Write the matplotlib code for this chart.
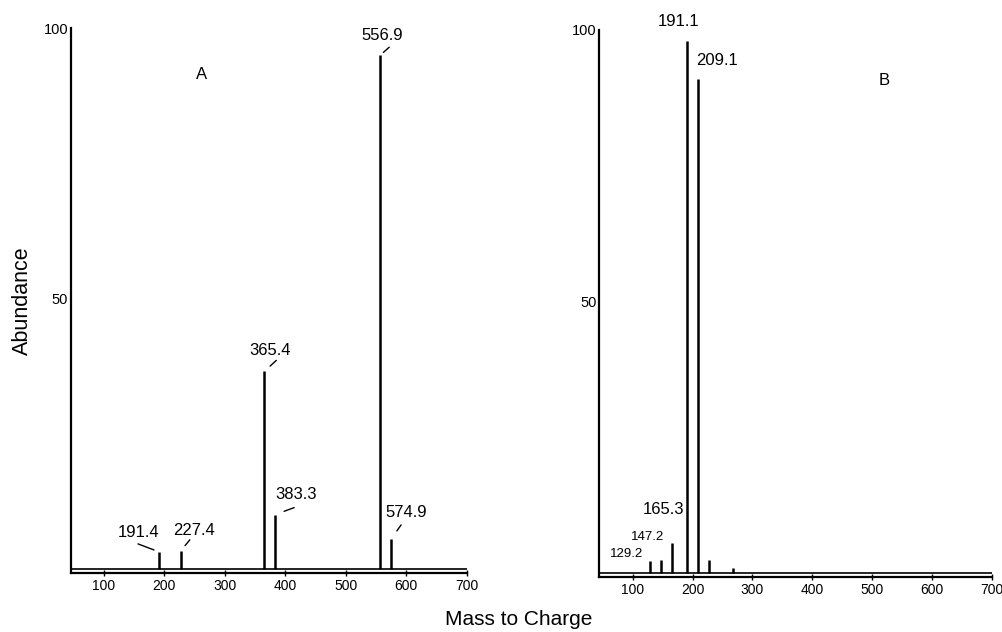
import numpy as np
import matplotlib.pyplot as plt

# spectrum A: m/z and relative abundance of the labelled peaks
mz_a = [191.4, 227.4, 365.4, 383.3, 556.9, 574.9]
ab_a = [3.1, 3.3, 36.5, 10.0, 95.0, 5.5]
lab_a = ['191.4', '227.4', '365.4', '383.3', '556.9', '574.9']

# spectrum B (two small unlabelled peaks at the end)
mz_b = [129.2, 147.2, 165.3, 191.1, 209.1, 227.0, 267.0]
ab_b = [2.2, 2.4, 5.5, 98.0, 91.0, 2.4, 0.9]
lab_b = ['129.2', '147.2', '165.3', '191.1', '209.1', '', '']

xticks = [100, 200, 300, 400, 500, 600, 700]
yticks = [50, 100]

plt.rcParams['font.family'] = ['Liberation Sans', 'DejaVu Sans']

fig = plt.figure(figsize=(10.02, 6.32), dpi=100)
ax_a = fig.add_axes([0.0709, 0.0934, 0.395, 0.862])
ax_b = fig.add_axes([0.598, 0.087, 0.392, 0.866])

# label offsets in pixels (dx, dy) from each peak top
off_a = [(-20, 19), (13, 20), (6, 21), (21, 20), (2, 20), (15, 26)]
# leader lines: far end and near end, pixels from the peak top
lead_a = [((-21, 8), (-5, 2)), ((9, 11), (3, 6)), ((12, 11), (5, 6)),
          ((19, 7), (9, 3)), ((9, 8), (3, 3)), ((10, 14), (4, 9))]
off_b = [(-24, 7), (-13, 23), (-8, 33), (-9, 19), (19, 18), (0, 0), (0, 0)]
size_b = [9.5, 9.5, 12, 12, 12, 9.5, 9.5]


def setup(ax, xmin):
    ax.set_xlim(xmin, 700)
    ax.set_ylim(-0.8, 100)
    for s in ['top', 'right']:
        ax.spines[s].set_visible(False)
    ax.spines['left'].set_linewidth(1.6)
    ax.spines['bottom'].set_linewidth(1.6)
    ax.set_xticks(xticks)
    ax.set_yticks(yticks)
    ax.set_yticklabels(['50', '100'])
    ax.tick_params(axis='x', direction='inout', length=4, width=1, labelsize=10, pad=2)
    ax.tick_params(axis='y', length=0, labelsize=10.5, pad=2)
    ax.plot([xmin, 700], [0, 0], color='black', lw=1.2)


setup(ax_a, 46)
setup(ax_b, 44)

ax_a.vlines(mz_a, 0, ab_a, color='black', lw=1.8)
for x, y, t, (dx, dy), (far, near) in zip(mz_a, ab_a, lab_a, off_a, lead_a):
    ax_a.annotate(t, xy=(x, y), xytext=(dx, dy), textcoords='offset pixels',
                  ha='center', va='center', fontsize=12)
    shrink = np.hypot(*near) * 0.72
    ax_a.annotate('', xy=(x, y), xytext=far, textcoords='offset pixels',
                  arrowprops=dict(arrowstyle='-', lw=1, shrinkA=0, shrinkB=shrink))

ax_b.vlines(mz_b, 0, ab_b, color='black', lw=1.8)
for x, y, t, (dx, dy), fs in zip(mz_b, ab_b, lab_b, off_b, size_b):
    if t:
        ax_b.annotate(t, xy=(x, y), xytext=(dx, dy), textcoords='offset pixels',
                      ha='center', va='center', fontsize=fs)

ax_a.text(0.33, 0.915, 'A', transform=ax_a.transAxes, fontsize=12, ha='center', va='center')
ax_b.text(0.725, 0.907, 'B', transform=ax_b.transAxes, fontsize=12, ha='center', va='center')

fig.text(0.022, 0.525, 'Abundance', rotation=90, ha='center', va='center', fontsize=15.5)
fig.text(0.518, 0.019, 'Mass to Charge', ha='center', va='center', fontsize=15)

fig.savefig('out.png', dpi=100)
